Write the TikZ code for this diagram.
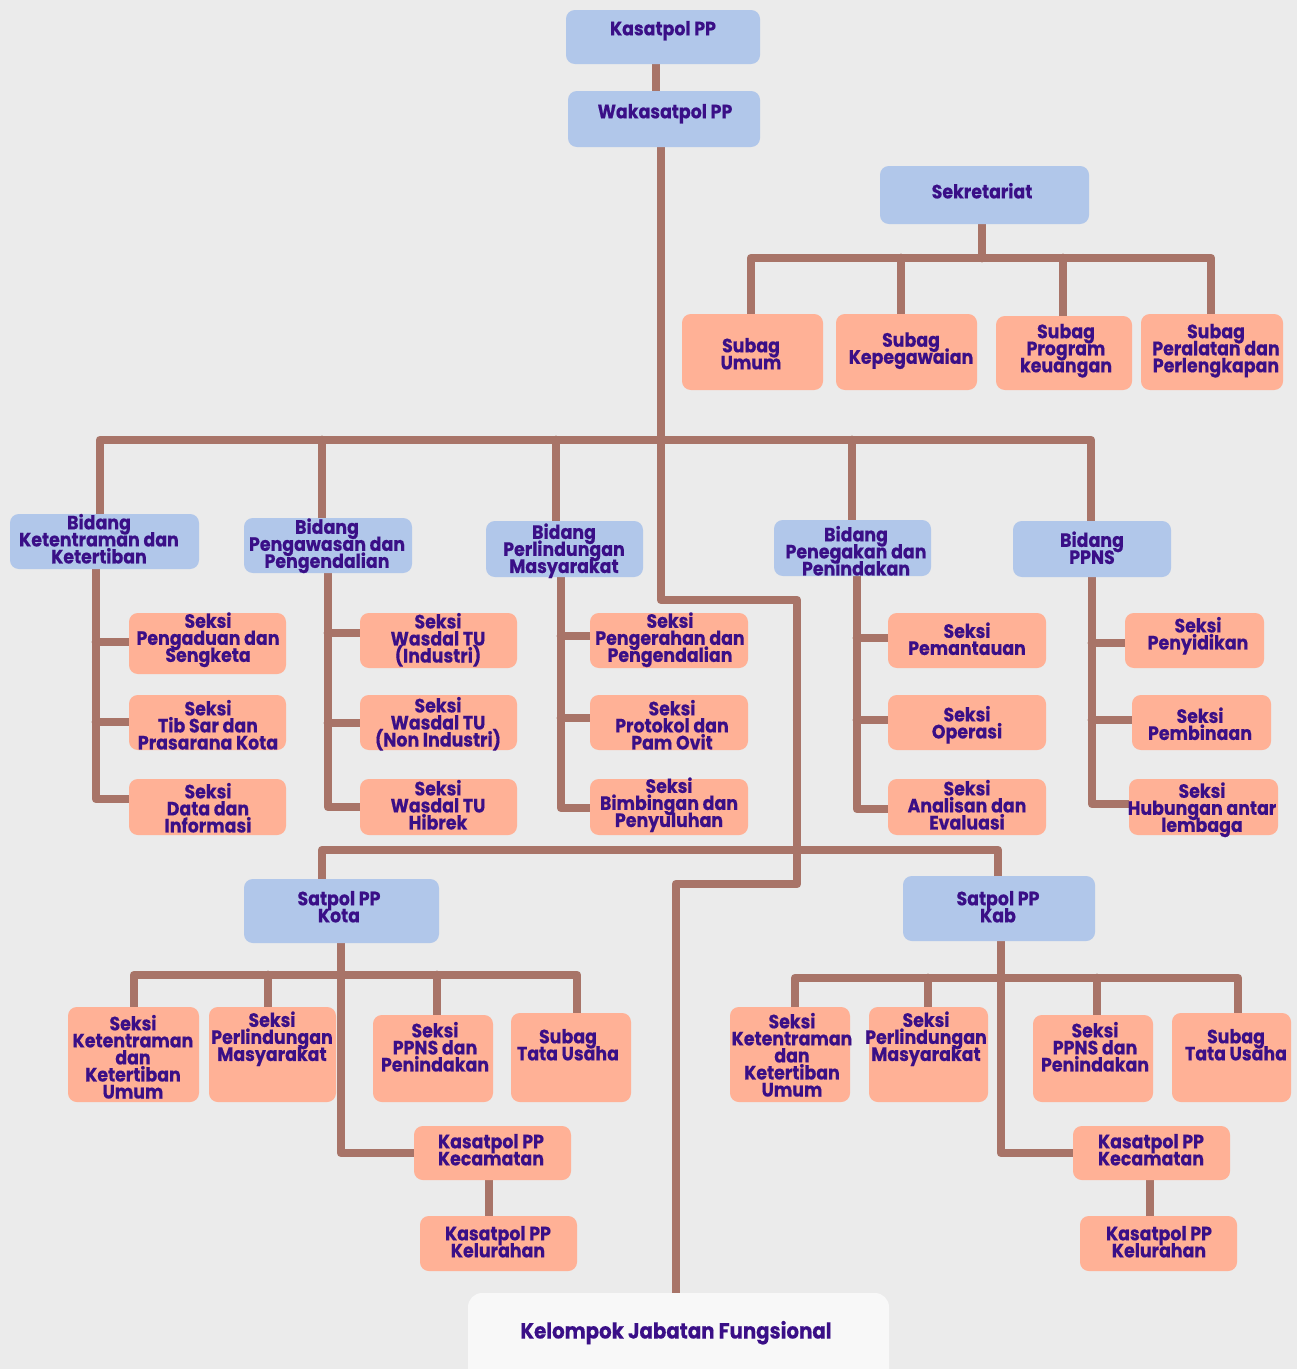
\documentclass[tikz,border=0pt]{standalone}
\usepackage{fontspec}
\setmainfont{Poppins}[FakeStretch=0.9, BoldFeatures={FakeBold=0.4}]
\usetikzlibrary{fit,calc}
\definecolor{bgc}{HTML}{EBEBEB}
\definecolor{bluef}{HTML}{B1C7EA}
\definecolor{salm}{HTML}{FFB196}
\definecolor{lnk}{HTML}{A87468}
\definecolor{txt}{HTML}{3A0F87}
\definecolor{wbox}{HTML}{F8F8F8}
\pgfdeclarelayer{back}
\pgfdeclarelayer{lines}
\pgfsetlayers{back,lines,main}
\newcommand\tightlines{\lineskiplimit=-20pt\relax\lineskip=0pt\relax}
\tikzset{
  bluebox/.style={fill=bluef, rounded corners=5pt, inner sep=0pt, draw=none},
  salbox/.style={fill=salm, rounded corners=5pt, inner sep=0pt, draw=none},
  whitebox/.style={fill=wbox, rounded corners=8pt, inner sep=0pt, draw=none},
  lbl/.style={text=txt, font=\bfseries\fontsize{11}{9.7}\selectfont\tightlines, align=center, inner sep=0pt, yshift=-1pt},
  biglbl/.style={lbl, font=\bfseries\fontsize{12.5}{12}\selectfont},
  conn/.style={draw=lnk, line width=5pt, line cap=round, line join=round},
}
\newcommand\obox[9]{\node[#1, fit={(#3,#4) (#5,#6)}] (#2) {};
  \node[lbl] (#2-t) at (#7,#8) {#9};}
\begin{document}
\begin{tikzpicture}[x=0.02cm,y=-0.02cm]
\useasboundingbox (0,0) rectangle (1297,1369);
\begin{pgfonlayer}{back}
\fill[bgc] (0,0) rectangle (1297,1369);
\end{pgfonlayer}
\clip (0,0) rectangle (1297,1369);
% top
\obox{bluebox}{kasat}{566}{10}{760}{64}{663}{29}{Kasatpol PP}
\obox{bluebox}{waka}{568}{91}{760}{147}{665}{112}{Wakasatpol PP}
\obox{bluebox}{sek}{880}{166}{1089}{224}{982}{189}{Sekretariat}
\obox{salbox}{su}{682}{314}{823}{390}{751}{352}{Subag\\Umum}
\obox{salbox}{sk}{836}{314}{977}{390}{911}{349}{Subag\\Kepegawaian}
\obox{salbox}{sp}{996}{316}{1132}{390}{1066}{349}{Subag\\Program\\keuangan}
\obox{salbox}{spl}{1141}{314}{1283}{390}{1216}{349}{Subag\\Peralatan dan\\Perlengkapan}
% bidang
\obox{bluebox}{bk}{10}{514}{199}{569}{99}{537}{Bidang\\Ketentraman dan\\Ketertiban}
\obox{bluebox}{bp}{244}{518}{412}{573}{327}{544}{Bidang\\Pengawasan dan\\Pengendalian}
\obox{bluebox}{bm}{486}{521}{643}{577}{564}{549}{Bidang\\Perlindungan\\Masyarakat}
\obox{bluebox}{bn}{774}{520}{931}{576}{856}{549}{Bidang\\Penegakan dan\\Penindakan}
\obox{bluebox}{bs}{1013}{521}{1171}{577}{1092}{546}{Bidang\\PPNS}
% seksi
\obox{salbox}{k1}{129}{613}{286}{674}{208}{638}{Seksi\\Pengaduan dan\\Sengketa}
\obox{salbox}{k2}{129}{695}{286}{750}{208}{723}{Seksi\\Tib Sar dan\\Prasarana Kota}
\obox{salbox}{k3}{129}{779}{286}{835}{208}{806}{Seksi\\Data dan\\Informasi}
\obox{salbox}{p1}{360}{613}{517}{668}{438}{638}{Seksi\\Wasdal TU\\(Industri)}
\obox{salbox}{p2}{360}{695}{517}{750}{438}{722}{Seksi\\Wasdal TU\\(Non Industri)}
\obox{salbox}{p3}{360}{779}{517}{835}{438}{803}{Seksi\\Wasdal TU\\Hibrek}
\obox{salbox}{m1}{590}{613}{748}{668}{670}{638}{Seksi\\Pengerahan dan\\Pengendalian}
\obox{salbox}{m2}{590}{695}{748}{750}{672}{723}{Seksi\\Protokol dan\\Pam Ovit}
\obox{salbox}{m3}{590}{779}{748}{835}{669}{803}{Seksi\\Bimbingan dan\\Penyuluhan}
\obox{salbox}{n1}{888}{613}{1046}{668}{967}{637}{Seksi\\Pemantauan}
\obox{salbox}{n2}{888}{695}{1046}{750}{967}{723}{Seksi\\Operasi}
\obox{salbox}{n3}{888}{779}{1046}{835}{967}{803}{Seksi\\Analisan dan\\Evaluasi}
\obox{salbox}{s1}{1125}{613}{1264}{668}{1198}{634}{Seksi\\Penyidikan}
\obox{salbox}{s2}{1132}{695}{1271}{750}{1200}{722}{Seksi\\Pembinaan}
\obox{salbox}{s3}{1129}{779}{1278}{835}{1202}{808}{Seksi\\Hubungan antar\\lembaga}
% satpol
\obox{bluebox}{kota}{244}{879}{439}{943}{339}{905}{Satpol PP\\Kota}
\obox{bluebox}{kab}{903}{876}{1095}{941}{998}{905}{Satpol PP\\Kab}
\obox{salbox}{ka1}{68}{1007}{199}{1102}{133}{1055}{Seksi\\Ketentraman\\dan\\Ketertiban\\Umum}
\obox{salbox}{ka2}{209}{1007}{336}{1102}{272}{1037}{Seksi\\Perlindungan\\Masyarakat}
\obox{salbox}{ka3}{373}{1015}{493}{1102}{435}{1045}{Seksi\\PPNS dan\\Penindakan}
\obox{salbox}{ka4}{511}{1013}{631}{1102}{568}{1043}{Subag\\Tata Usaha}
\obox{salbox}{ka5}{414}{1126}{571}{1180}{491}{1148}{Kasatpol PP\\Kecamatan}
\obox{salbox}{ka6}{420}{1216}{577}{1271}{498}{1240}{Kasatpol PP\\Kelurahan}
\obox{salbox}{kb1}{730}{1007}{850}{1102}{792}{1053}{Seksi\\Ketentraman\\dan\\Ketertiban\\Umum}
\obox{salbox}{kb2}{869}{1007}{988}{1102}{926}{1037}{Seksi\\Perlindungan\\Masyarakat}
\obox{salbox}{kb3}{1033}{1015}{1153}{1102}{1095}{1045}{Seksi\\PPNS dan\\Penindakan}
\obox{salbox}{kb4}{1172}{1013}{1291}{1102}{1236}{1043}{Subag\\Tata Usaha}
\obox{salbox}{kb5}{1073}{1126}{1230}{1180}{1151}{1148}{Kasatpol PP\\Kecamatan}
\obox{salbox}{kb6}{1080}{1216}{1237}{1271}{1159}{1240}{Kasatpol PP\\Kelurahan}
% kelompok
\node[whitebox, fit={(468,1293) (889,1395)}] (kjf) {};
\node[biglbl] (kjf-t) at (676,1331) {Kelompok Jabatan Fungsional};

% coordinates
\coordinate (c0) at (656,0);
\coordinate (tr) at (661,0);
\coordinate (j1) at (797,600);
\coordinate (j2) at (676,884);
\coordinate (d1) at (100,440);
\coordinate (d2) at (322,440);
\coordinate (d3) at (556,440);
\coordinate (d4) at (852,440);
\coordinate (d5) at (1091,440);
\coordinate (e1) at (751,258);
\coordinate (e2) at (901,258);
\coordinate (e3) at (1063,258);
\coordinate (e4) at (1211,258);
\coordinate (e0) at (982,258);
\coordinate (f1) at (322,850);
\coordinate (f2) at (998,850);
\coordinate (g1) at (96,642);
\coordinate (g2) at (96,722);
\coordinate (g3) at (96,799);
\coordinate (h1) at (328,633);
\coordinate (h2) at (328,723);
\coordinate (h3) at (328,807);
\coordinate (i1) at (561,636);
\coordinate (i2) at (561,718);
\coordinate (i3) at (561,808);
\coordinate (l1) at (857,638);
\coordinate (l2) at (857,720);
\coordinate (l3) at (857,809);
\coordinate (o1) at (1092,643);
\coordinate (o2) at (1092,720);
\coordinate (o3) at (1092,804);
\coordinate (q0) at (341,1153);
\coordinate (q1) at (134,975);
\coordinate (q2) at (268,975);
\coordinate (q3) at (437,975);
\coordinate (q4) at (577,975);
\coordinate (q5) at (489,0);
\coordinate (r0) at (1001,1153);
\coordinate (r1) at (795,978);
\coordinate (r2) at (928,978);
\coordinate (r3) at (1097,978);
\coordinate (r4) at (1238,978);
\coordinate (r5) at (1150,0);

\begin{pgfonlayer}{lines}
\draw[conn] (kasat.south -| c0) -- (waka.north -| c0);
\draw[conn] (waka.south -| tr) -- (tr |- j1) -- (j1) -- (j1 |- j2) -- (j2) -- (kjf.north -| j2);
% bidang bus
\draw[conn] (bk.north -| d1) -- (d1) -- (d5) -- (bs.north -| d5);
\draw[conn] (d2) -- (bp.north -| d2);
\draw[conn] (d3) -- (bm.north -| d3);
\draw[conn] (d4) -- (bn.north -| d4);
% sekretariat
\draw[conn] (sek.south -| e0) -- (e0);
\draw[conn] (su.north -| e1) -- (e1) -- (e4) -- (spl.north -| e4);
\draw[conn] (e2) -- (sk.north -| e2);
\draw[conn] (e3) -- (sp.north -| e3);
% columns
\draw[conn] (bk.south -| g3) -- (g3) -- (g3 -| k3.west);
\draw[conn] (g1) -- (g1 -| k1.west);
\draw[conn] (g2) -- (g2 -| k2.west);
\draw[conn] (bp.south -| h3) -- (h3) -- (h3 -| p3.west);
\draw[conn] (h1) -- (h1 -| p1.west);
\draw[conn] (h2) -- (h2 -| p2.west);
\draw[conn] (bm.south -| i3) -- (i3) -- (i3 -| m3.west);
\draw[conn] (i1) -- (i1 -| m1.west);
\draw[conn] (i2) -- (i2 -| m2.west);
\draw[conn] (bn.south -| l3) -- (l3) -- (l3 -| n3.west);
\draw[conn] (l1) -- (l1 -| n1.west);
\draw[conn] (l2) -- (l2 -| n2.west);
\draw[conn] (bs.south -| o3) -- (o3) -- (o3 -| s3.west);
\draw[conn] (o1) -- (o1 -| s1.west);
\draw[conn] (o2) -- (o2 -| s2.west);
% satpol bus
\draw[conn] (kota.north -| f1) -- (f1) -- (f2) -- (kab.north -| f2);
% kota
\draw[conn] (kota.south -| q0) -- (q0) -- (q0 -| ka5.west);
\draw[conn] (ka1.north -| q1) -- (q1) -- (q4) -- (ka4.north -| q4);
\draw[conn] (q2) -- (ka2.north -| q2);
\draw[conn] (q3) -- (ka3.north -| q3);
\draw[conn] (ka5.south -| q5) -- (ka6.north -| q5);
% kab
\draw[conn] (kab.south -| r0) -- (r0) -- (r0 -| kb5.west);
\draw[conn] (kb1.north -| r1) -- (r1) -- (r4) -- (kb4.north -| r4);
\draw[conn] (r2) -- (kb2.north -| r2);
\draw[conn] (r3) -- (kb3.north -| r3);
\draw[conn] (kb5.south -| r5) -- (kb6.north -| r5);
\end{pgfonlayer}
\end{tikzpicture}
\end{document}
